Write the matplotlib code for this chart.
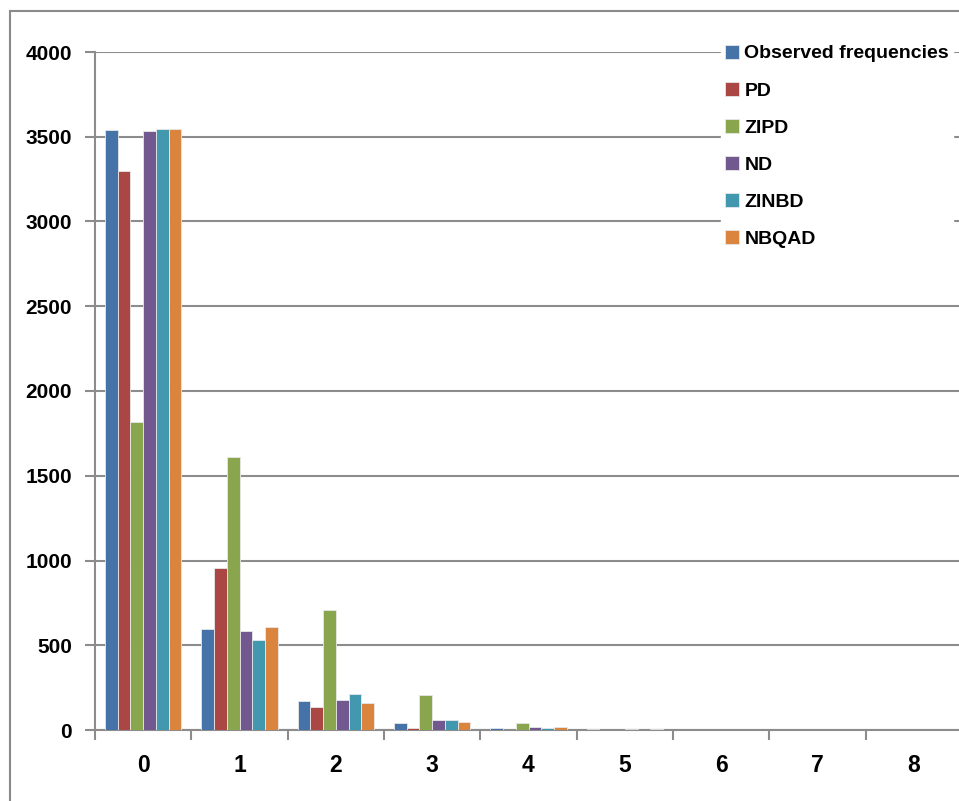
import matplotlib.pyplot as plt
import numpy as np
from matplotlib.patches import Rectangle

# frequency counts per class, observed and fitted
classes = ['0', '1', '2', '3', '4', '5', '6', '7', '8']
observed = [3540, 598, 174, 44, 14, 5, 1, 0, 0]
pd_fit = [3298, 956, 136, 10, 2, 0, 0, 0, 0]
zipd = [1817, 1610, 710, 207, 43, 2, 0, 0, 0]
nd = [3532, 585, 177, 59, 20, 4, 1, 0, 0]
zinbd = [3545, 531, 214, 61, 14, 2, 0, 0, 0]
nbqad = [3545, 608, 159, 49, 17, 5, 1, 0, 0]

series = ['Observed frequencies', 'PD', 'ZIPD', 'ND', 'ZINBD', 'NBQAD']
values = [observed, pd_fit, zipd, nd, zinbd, nbqad]
colors = ['#4572A7', '#AA4643', '#89A54E', '#71588F', '#4198AF', '#DB843D']

plt.rcParams['font.family'] = ['Liberation Sans', 'DejaVu Sans']
plt.rcParams['font.weight'] = 'bold'

W, H = 959, 801
fig = plt.figure(figsize=(W / 100, H / 100), dpi=100)

# chart area border
fig.patches.append(Rectangle((10 / W, -0.05), 1.2, 1 - 11 / H + 0.05,
                             transform=fig.transFigure, fill=False,
                             edgecolor='#8a8a8a', linewidth=1.5))

left, right, bottom, top = 95, 962, 730, 52
ax = fig.add_axes([left / W, (H - bottom) / H, (right - left) / W, (bottom - top) / H])

x = np.arange(len(classes))
bw = 0.79 / len(series)
for i, (name, vals, c) in enumerate(zip(series, values, colors)):
    off = (i - (len(series) - 1) / 2) * bw
    ax.bar(x + off, vals, width=bw, color=c, edgecolor='#e8e8e8',
           linewidth=0.6, label=name, zorder=3)

grid_c = '#8c8c8c'
ax.set_xlim(-0.5, len(classes) - 0.5)
ax.set_ylim(0, 4000)
ax.set_yticks(np.arange(0, 4001, 500))
ax.yaxis.grid(True, color=grid_c, linewidth=1.5, zorder=0)
ax.set_axisbelow(True)

ax.set_xticks(x)
ax.set_xticklabels(classes)
ax.set_xticks(np.arange(-0.5, len(classes), 1), minor=True)
ax.tick_params(axis='x', which='major', length=0, pad=17, labelsize=16.5)
ax.tick_params(axis='x', which='minor', length=7, width=1.5, color=grid_c, direction='out')
ax.tick_params(axis='y', length=7, width=1.5, color=grid_c, pad=9.5, labelsize=15)
for lab in ax.get_xticklabels() + ax.get_yticklabels():
    lab.set_fontweight('bold')

for s in ['top', 'right']:
    ax.spines[s].set_visible(False)
for s in ['left', 'bottom']:
    ax.spines[s].set_color(grid_c)
    ax.spines[s].set_linewidth(1.5)

leg = ax.legend(loc='upper left', bbox_to_anchor=(721 / W, 1 - 41 / H),
                bbox_transform=fig.transFigure, frameon=True, fancybox=False,
                framealpha=1, edgecolor='white', facecolor='white',
                prop={'weight': 'bold', 'size': 14}, handlelength=0.7,
                handleheight=0.7, handletextpad=0.3, labelspacing=1.0,
                borderpad=0.2, borderaxespad=0)
leg.set_zorder(10)

fig.savefig('out.png', dpi=100)
